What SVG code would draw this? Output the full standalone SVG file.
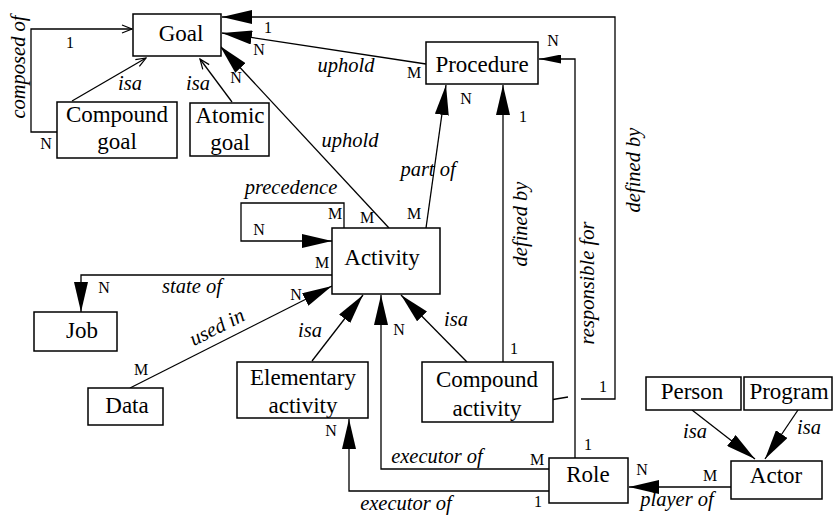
<svg xmlns="http://www.w3.org/2000/svg" width="837" height="518" viewBox="0 0 837 518" font-family="Liberation Serif, DejaVu Serif, serif">
  <style>
    .box { fill: #fff; stroke: #000; stroke-width: 1.5; }
    .node { font-size: 23px; text-anchor: middle; }
    .rel { font-size: 20.5px; font-style: italic; text-anchor: middle; }
    .card { font-size: 16px; text-anchor: middle; }
    .edge { fill: none; stroke: #000; stroke-width: 1.3; }
    .fa { marker-end: url(#filled); }
    .fs { marker-end: url(#filledSmall); }
    .oa { marker-end: url(#open); }
  </style>
  <defs>
    <marker id="filled" markerWidth="30" markerHeight="14" refX="30" refY="7" orient="auto" markerUnits="userSpaceOnUse">
      <path d="M0,0 L30,7 L0,14 z" fill="#000"/>
    </marker>
    <marker id="filledSmall" markerWidth="22" markerHeight="9" refX="22" refY="4.5" orient="auto" markerUnits="userSpaceOnUse">
      <path d="M0,0 L22,4.5 L0,9 z" fill="#000"/>
    </marker>
    <marker id="open" markerWidth="12" markerHeight="10" refX="11" refY="5" orient="auto" markerUnits="userSpaceOnUse">
      <path d="M1,1 L11,5 L1,9" fill="none" stroke="#000" stroke-width="1.2"/>
    </marker>
  </defs>

  <rect width="837" height="518" fill="#fff"/>

  <!-- connectors -->
  <g id="connectors">
    <path class="edge oa" d="M57,132 H31 V29 H132"/>
    <path class="edge oa" d="M72,101 L146,58"/>
    <path class="edge oa" d="M232,102 L200,59"/>
    <path class="edge" d="M553,399.5 L568,397"/>
    <path class="edge fa" d="M581,399 H615 V17 H222"/>
    <path class="edge fa" d="M426,64 L222,33"/>
    <path class="edge fa" d="M389,228 L220,46"/>
    <path class="edge fa" d="M426,228 L446,85"/>
    <path class="edge fa" d="M503,362 V85"/>
    <path class="edge fs" d="M575,458 V59 H539"/>
    <path class="edge fa" d="M344,228 V203 H241 V241 H332"/>
    <path class="edge fa" d="M332,275 H81 V312"/>
    <path class="edge fa" d="M130,388 L332,286"/>
    <path class="edge fa" d="M312,361 L363,295"/>
    <path class="edge fa" d="M467,362 L401,295"/>
    <path class="edge fa" d="M549,469 H381 V295"/>
    <path class="edge fa" d="M549,491 H349 V419"/>
    <path class="edge fa" d="M731,487 H629"/>
    <path class="edge fa" d="M692,410 L755,459"/>
    <path class="edge fa" d="M798,410 L765,459"/>

    <!-- relationship names -->
    <text class="rel" transform="translate(25,67) rotate(-90)">composed of</text>
    <text class="rel" x="130" y="90">isa</text>
    <text class="rel" x="198" y="90">isa</text>
    <text class="rel" x="346" y="72">uphold</text>
    <text class="rel" x="350" y="147">uphold</text>
    <text class="rel" x="428" y="176">part of</text>
    <text class="rel" x="291" y="194">precedence</text>
    <text class="rel" x="192" y="293">state of</text>
    <text class="rel" transform="translate(220,333) rotate(-27)">used in</text>
    <text class="rel" x="310" y="337">isa</text>
    <text class="rel" x="456" y="326">isa</text>
    <text class="rel" transform="translate(527,224) rotate(-90)">defined by</text>
    <text class="rel" transform="translate(594,283) rotate(-90)">responsible for</text>
    <text class="rel" transform="translate(640,170) rotate(-90)">defined by</text>
    <text class="rel" x="437" y="463">executor of</text>
    <text class="rel" x="406" y="510">executor of</text>
    <text class="rel" x="677" y="506">player of</text>
    <text class="rel" x="695" y="438">isa</text>
    <text class="rel" x="809" y="434">isa</text>

    <!-- cardinalities -->
    <text class="card" x="70" y="48">1</text>
    <text class="card" x="46" y="149">N</text>
    <text class="card" x="268" y="33">1</text>
    <text class="card" x="259" y="55">N</text>
    <text class="card" x="236" y="83">N</text>
    <text class="card" x="414" y="78">M</text>
    <text class="card" x="466" y="104">N</text>
    <text class="card" x="523" y="122">1</text>
    <text class="card" x="553" y="46">N</text>
    <text class="card" x="414" y="219">M</text>
    <text class="card" x="367" y="223">M</text>
    <text class="card" x="335" y="219">M</text>
    <text class="card" x="259" y="235">N</text>
    <text class="card" x="322" y="268">M</text>
    <text class="card" x="104" y="293">N</text>
    <text class="card" x="296" y="300">N</text>
    <text class="card" x="141" y="375">M</text>
    <text class="card" x="399" y="335">N</text>
    <text class="card" x="514" y="354">1</text>
    <text class="card" x="603" y="392">1</text>
    <text class="card" x="331" y="436">N</text>
    <text class="card" x="537" y="465">M</text>
    <text class="card" x="538" y="507">1</text>
    <text class="card" x="588" y="450">1</text>
    <text class="card" x="642" y="475">N</text>
    <text class="card" x="710" y="481">M</text>
  </g>

  <!-- nodes -->
  <g id="goal">
    <rect class="box" x="133" y="14" width="88" height="42"/>
    <text class="node" x="181" y="41">Goal</text>
  </g>
  <g id="compound-goal">
    <rect class="box" x="57" y="102" width="120" height="56"/>
    <text class="node" x="117" y="122">Compound</text>
    <text class="node" x="117" y="149">goal</text>
  </g>
  <g id="atomic-goal">
    <rect class="box" x="190" y="103" width="79" height="53"/>
    <text class="node" x="230" y="123">Atomic</text>
    <text class="node" x="230" y="150">goal</text>
  </g>
  <g id="procedure">
    <rect class="box" x="426" y="42" width="112" height="42"/>
    <text class="node" x="482" y="72">Procedure</text>
  </g>
  <g id="activity">
    <rect class="box" x="332" y="228" width="108" height="66"/>
    <text class="node" x="382" y="265">Activity</text>
  </g>
  <g id="job">
    <rect class="box" x="34" y="312" width="83" height="39"/>
    <text class="node" x="82" y="338">Job</text>
  </g>
  <g id="data">
    <rect class="box" x="88" y="388" width="75" height="37"/>
    <text class="node" x="127" y="413">Data</text>
  </g>
  <g id="elementary-activity">
    <rect class="box" x="237" y="362" width="131" height="56"/>
    <text class="node" x="303" y="385">Elementary</text>
    <text class="node" x="303" y="413">activity</text>
  </g>
  <g id="compound-activity">
    <rect class="box" x="422" y="362" width="131" height="60"/>
    <text class="node" x="487" y="387">Compound</text>
    <text class="node" x="487" y="416">activity</text>
  </g>
  <g id="role">
    <rect class="box" x="549" y="458" width="79" height="45"/>
    <text class="node" x="588" y="482">Role</text>
  </g>
  <g id="actor">
    <rect class="box" x="731" y="461" width="91" height="38"/>
    <text class="node" x="776" y="483">Actor</text>
  </g>
  <g id="person">
    <rect class="box" x="646" y="377" width="95" height="33"/>
    <text class="node" x="692" y="399">Person</text>
  </g>
  <g id="program">
    <rect class="box" x="744" y="377" width="88" height="33"/>
    <text class="node" x="789" y="399">Program</text>
  </g>
</svg>
